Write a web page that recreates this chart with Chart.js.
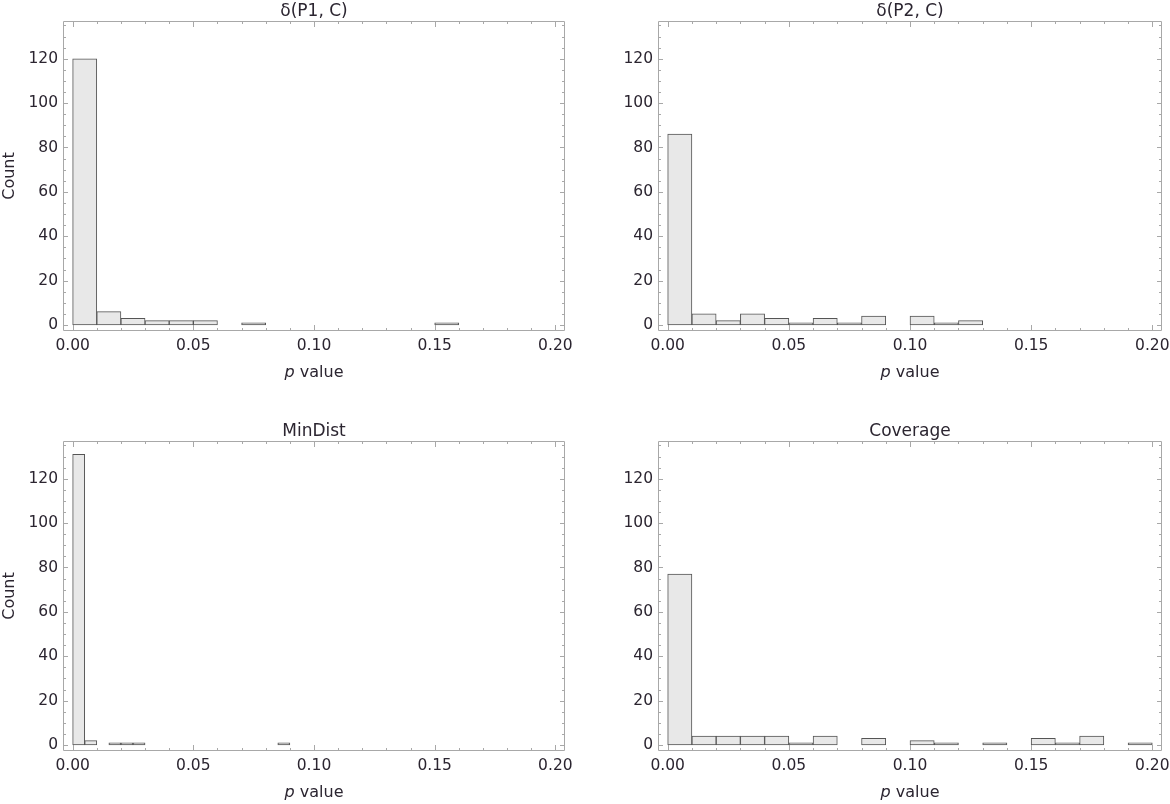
<!DOCTYPE html>
<html>
<head>
<meta charset="utf-8">
<script src="https://cdn.jsdelivr.net/npm/chart.js@4.4.0/dist/chart.umd.min.js"></script>
<style>
  html, body { margin: 0; padding: 0; background: #fff; overflow: hidden; width: 1170px; height: 804px; }
  canvas { position: absolute; }
</style>
</head>
<body>
<canvas id="p1" width="585" height="384" style="left:0;top:0"></canvas>
<canvas id="p2" width="600" height="384" style="left:585px;top:0"></canvas>
<canvas id="md" width="585" height="384" style="left:0;top:420px"></canvas>
<canvas id="cov" width="600" height="384" style="left:585px;top:420px"></canvas>
<script>
// histogram bins (lower edge of each non-empty bin) and counts
const p1Edges = [0, 0.01, 0.02, 0.03, 0.04, 0.05, 0.07, 0.15];
const p1Counts = [120, 6, 3, 2, 2, 2, 1, 1];

const p2Edges = [0, 0.01, 0.02, 0.03, 0.04, 0.05, 0.06, 0.07, 0.08, 0.10, 0.11, 0.12];
const p2Counts = [86, 5, 2, 5, 3, 1, 3, 1, 4, 4, 1, 2];

const minDistEdges = [0, 0.005, 0.015, 0.02, 0.025, 0.085];
const minDistCounts = [131, 2, 1, 1, 1, 1];

const covEdges = [0, 0.01, 0.02, 0.03, 0.04, 0.05, 0.06, 0.08, 0.10, 0.11, 0.13, 0.15, 0.16, 0.17, 0.19];
const covCounts = [77, 4, 4, 4, 4, 1, 4, 3, 2, 1, 1, 3, 1, 4, 1];

const xTicks = [0, 0.05, 0.10, 0.15, 0.20];
const yTicks = [0, 20, 40, 60, 80, 100, 120];

const textColor = '#2b2530';
const frameColor = '#a8a8a8';
const barFill = '#e8e8e8';
const barEdge = '#555555';
const family = '"DejaVu Sans", "Liberation Sans", sans-serif';

// Frame with inward ticks on all four sides + the "p value" label
const frameTicks = {
    id: 'frameTicks',
    afterDatasetsDraw(chart) {
        const { ctx, chartArea: a, scales } = chart;
        const x = scales.x, y = scales.y;
        ctx.save();
        ctx.strokeStyle = frameColor;
        ctx.lineWidth = 1;
        ctx.beginPath();
        ctx.rect(a.left + 0.5, a.top + 0.5, a.right - a.left - 1, a.bottom - a.top - 1);
        // x: minor every 0.01, major every 0.05
        for (let i = 0; i <= 20; i++) {
            const px = Math.round(x.getPixelForValue(i / 100)) + 0.5;
            const len = i % 5 === 0 ? 6 : 3;
            ctx.moveTo(px, a.bottom); ctx.lineTo(px, a.bottom - len);
            ctx.moveTo(px, a.top); ctx.lineTo(px, a.top + len);
        }
        // y: minor every 5, major every 20
        for (let j = 0; j <= 27; j++) {
            const py = Math.round(y.getPixelForValue(j * 5)) + 0.5;
            const len = j % 4 === 0 ? 5 : 3;
            ctx.moveTo(a.left, py); ctx.lineTo(a.left + len, py);
            ctx.moveTo(a.right, py); ctx.lineTo(a.right - len, py);
        }
        ctx.stroke();
        ctx.restore();
    },
    afterDraw(chart) {
        const { ctx, chartArea: a } = chart;
        ctx.save();
        ctx.fillStyle = textColor;
        ctx.textBaseline = 'alphabetic';
        ctx.textAlign = 'left';
        const italic = 'italic 16px ' + family;
        const normal = '16px ' + family;
        ctx.font = italic;
        const wp = ctx.measureText('p').width;
        ctx.font = normal;
        const wv = ctx.measureText(' value').width;
        const start = (a.left + a.right) / 2 - (wp + wv) / 2;
        const base = a.bottom + 46;
        ctx.font = italic;
        ctx.fillText('p', start, base);
        ctx.font = normal;
        ctx.fillText(' value', start + wp, base);
        ctx.restore();
    }
};

function drawHistogram(id, title, edges, counts, binWidth, showCount) {
    const points = edges.map((e, i) => ({ x: e + binWidth / 2, y: counts[i] }));
    const isLeft = showCount;
    return new Chart(document.getElementById(id), {
        type: 'bar',
        data: {
            datasets: [{
                data: points,
                backgroundColor: barFill,
                borderColor: barEdge,
                borderWidth: 1,
                borderSkipped: false,
                barPercentage: 1,
                categoryPercentage: 1
            }]
        },
        options: {
            responsive: false,
            animation: false,
            layout: { padding: { left: 0, top: 0, bottom: 0, right: isLeft ? 20 : 23 } },
            plugins: {
                legend: { display: false },
                tooltip: { enabled: false },
                title: {
                    display: true,
                    text: title,
                    fullSize: false,
                    color: textColor,
                    font: { family: family, size: 17, weight: 'normal', lineHeight: '18px' },
                    padding: { top: 3, bottom: 0 }
                }
            },
            scales: {
                x: {
                    type: 'linear',
                    min: -0.004,
                    max: 0.204,
                    offset: false,
                    grid: { display: false, drawTicks: false },
                    border: { display: false },
                    afterBuildTicks: s => { s.ticks = xTicks.map(v => ({ value: v })); },
                    ticks: {
                        autoSkip: false,
                        maxRotation: 0,
                        padding: 6,
                        color: textColor,
                        font: { family: family, size: 15.5 },
                        callback: v => v.toFixed(2)
                    },
                    afterFit: s => { s.height = 53; }
                },
                y: {
                    min: -2.7,
                    max: 137,
                    grid: { display: false, drawTicks: false },
                    border: { display: false },
                    afterBuildTicks: s => { s.ticks = yTicks.map(v => ({ value: v })); },
                    ticks: {
                        padding: 5,
                        color: textColor,
                        font: { family: family, size: 15.5 },
                        callback: v => String(v)
                    },
                    title: {
                        display: showCount,
                        text: 'Count',
                        color: textColor,
                        font: { family: family, size: 16 },
                        padding: 0
                    },
                    afterFit: s => { s.width = isLeft ? 63 : 73; }
                }
            }
        },
        plugins: [frameTicks]
    });
}

drawHistogram('p1', 'δ(P1, C)', p1Edges, p1Counts, 0.01, true);
drawHistogram('p2', 'δ(P2, C)', p2Edges, p2Counts, 0.01, false);
drawHistogram('md', 'MinDist', minDistEdges, minDistCounts, 0.005, true);
drawHistogram('cov', 'Coverage', covEdges, covCounts, 0.01, false);
</script>
</body>
</html>
